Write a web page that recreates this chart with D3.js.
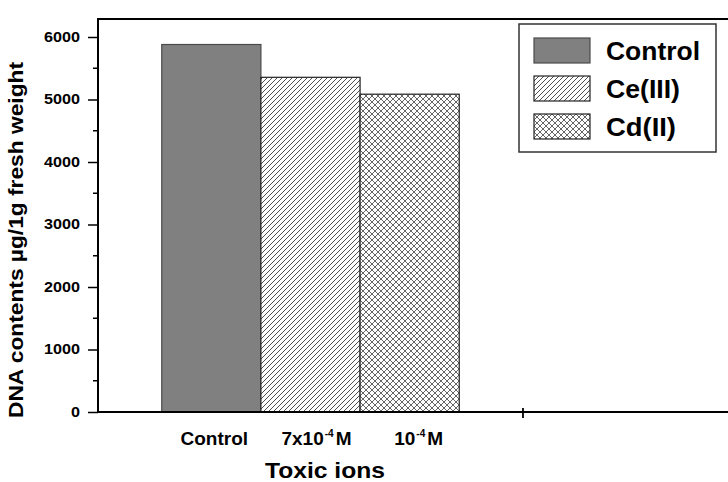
<!DOCTYPE html>
<html>
<head>
<meta charset="utf-8">
<script src="https://cdn.jsdelivr.net/npm/d3@7"></script>
<style>
  body { margin: 0; background: #fff; }
  text { font-family: "Liberation Sans", Arial, sans-serif; font-weight: bold; fill: #000; }
</style>
</head>
<body>
<div id="main"></div>
<script>
// data
var series = ["Control", "Ce(III)", "Cd(II)"];
var values = [5880, 5355, 5085];
var yTicks = [0, 1000, 2000, 3000, 4000, 5000, 6000];
var catLabels = [
  {base: "Control", sup: "", tail: ""},
  {base: "7x10", sup: "-4", tail: "M"},
  {base: "10", sup: "-4", tail: "M"}
];

var W = 728, H = 482;
var svg = d3.select("#main").append("svg")
    .attr("width", W)
    .attr("height", H);

var defs = svg.append("defs");

// hatch patterns
var p1 = defs.append("pattern")
    .attr("id", "hatch")
    .attr("patternUnits", "userSpaceOnUse")
    .attr("width", 5).attr("height", 5);
p1.append("rect").attr("width", 5).attr("height", 5).attr("fill", "#fff");
p1.append("path")
    .attr("d", "M-1,1 l2,-2 M0,5 l5,-5 M4,6 l2,-2")
    .attr("stroke", "#222").attr("stroke-width", 0.8);

var p2 = defs.append("pattern")
    .attr("id", "cross")
    .attr("patternUnits", "userSpaceOnUse")
    .attr("width", 6).attr("height", 6);
p2.append("rect").attr("width", 6).attr("height", 6).attr("fill", "#fff");
p2.append("path")
    .attr("d", "M0,6 L6,0 M-1,1 l2,-2 M5,7 l2,-2 M0,0 L6,6 M-1,5 l2,2 M5,-1 l2,2")
    .attr("stroke", "#222").attr("stroke-width", 0.7);

var fills = ["#808080", "url(#hatch)", "url(#cross)"];
var strokes = ["#4a4a4a", "#222", "#222"];

// scales (x is linear as in the original plot, group centred at 0.5)
var x = d3.scaleLinear().domain([0, 1.4824]).range([98, 728]);
var y = d3.scaleLinear().domain([0, 6288]).range([412, 19]);

var barW = 0.7 / series.length;

// bars
svg.selectAll("rect.bar")
  .data(values)
  .enter().append("rect")
    .attr("class", "bar")
    .attr("x", function(d, i) { return x(0.15 + i * barW); })
    .attr("width", function(d, i) { return x(0.15 + (i + 1) * barW) - x(0.15 + i * barW); })
    .attr("y", function(d) { return y(d); })
    .attr("height", function(d) { return y(0) - y(d); })
    .attr("fill", function(d, i) { return fills[i]; })
    .attr("stroke", function(d, i) { return strokes[i]; })
    .attr("stroke-width", 1.2);

// y axis
var yAxis = svg.append("g")
    .attr("transform", "translate(98,0)")
    .call(d3.axisLeft(y).tickValues(yTicks).tickSize(10).tickPadding(8).tickFormat(d3.format("d")));
yAxis.select(".domain").remove();
yAxis.selectAll("line").attr("stroke", "#000").attr("stroke-width", 1.5);
yAxis.selectAll("text")
    .style("font-size", "14px")
    .attr("fill", "#000")
    .attr("textLength", function(d) { return String(d).length * 9; })
    .attr("lengthAdjust", "spacingAndGlyphs");

// minor ticks
var minor = d3.range(500, 6288, 1000);
svg.selectAll("line.minor")
  .data(minor)
  .enter().append("line")
    .attr("x1", 93).attr("x2", 98)
    .attr("y1", function(d) { return y(d); })
    .attr("y2", function(d) { return y(d); })
    .attr("stroke", "#000").attr("stroke-width", 1.5);

// axis frame lines
svg.append("line")
    .attr("x1", 98).attr("x2", 98).attr("y1", y.range()[1]).attr("y2", y(0) + 1)
    .attr("stroke", "#000").attr("stroke-width", 2);
svg.append("line")
    .attr("x1", 97).attr("x2", W).attr("y1", y(0)).attr("y2", y(0))
    .attr("stroke", "#000").attr("stroke-width", 2);
svg.append("line")
    .attr("x1", 97).attr("x2", W).attr("y1", y.range()[1]).attr("y2", y.range()[1])
    .attr("stroke", "#000").attr("stroke-width", 2);

// x tick at 1 (crosses the axis)
svg.append("line")
    .attr("x1", x(1)).attr("x2", x(1))
    .attr("y1", y(0) - 4).attr("y2", y(0) + 6)
    .attr("stroke", "#000").attr("stroke-width", 1.8);

// category labels under each bar (slightly right of bar centre, as in the original)
var labShift = [3, 6, 9];
var lab = svg.selectAll("text.cat")
  .data(catLabels)
  .enter().append("text")
    .attr("class", "cat")
    .attr("x", function(d, i) { return x(0.15 + (i + 0.5) * barW) + labShift[i]; })
    .attr("y", 445)
    .attr("text-anchor", "middle")
    .style("font-size", "19px");
lab.append("tspan").text(function(d) { return d.base; });
lab.append("tspan")
    .attr("dy", -8)
    .attr("dx", 1)
    .style("font-size", "10px")
    .text(function(d) { return d.sup; });
lab.append("tspan")
    .attr("dy", 8)
    .attr("dx", 2)
    .text(function(d) { return d.tail; });

// axis titles
svg.append("text")
    .attr("x", 325).attr("y", 478)
    .attr("text-anchor", "middle")
    .style("font-size", "22px")
    .attr("textLength", 120)
    .attr("lengthAdjust", "spacingAndGlyphs")
    .text("Toxic ions");

svg.append("text")
    .attr("transform", "translate(23,240) rotate(-90)")
    .attr("text-anchor", "middle")
    .style("font-size", "21px")
    .attr("textLength", 356)
    .attr("lengthAdjust", "spacingAndGlyphs")
    .text("DNA contents \u00b5g/1g fresh weight");

// legend
var legend = svg.append("g");
legend.append("rect")
    .attr("x", 519).attr("y", 24)
    .attr("width", 197).attr("height", 128)
    .attr("fill", "#fff")
    .attr("stroke", "#333").attr("stroke-width", 1.5);

var item = legend.selectAll("g.item")
  .data(series)
  .enter().append("g")
    .attr("class", "item")
    .attr("transform", function(d, i) { return "translate(534," + (38 + i * 38) + ")"; });
item.append("rect")
    .attr("width", 56).attr("height", 25)
    .attr("fill", function(d, i) { return fills[i]; })
    .attr("stroke", function(d, i) { return strokes[i]; })
    .attr("stroke-width", 1.2);
item.append("text")
    .attr("x", 72).attr("y", 22)
    .style("font-size", "25px")
    .attr("textLength", function(d, i) { return [94, 74, 70][i]; })
    .attr("lengthAdjust", "spacingAndGlyphs")
    .text(function(d) { return d; });
</script>
</body>
</html>
